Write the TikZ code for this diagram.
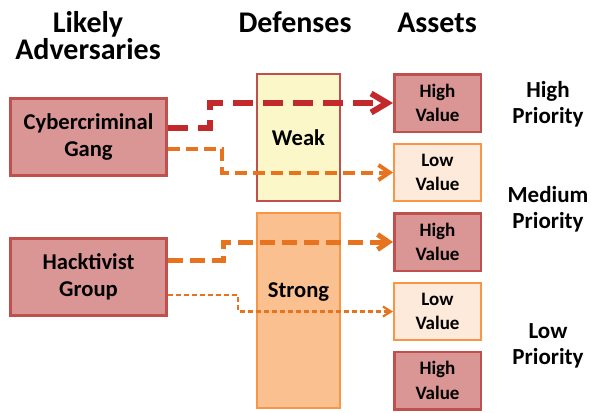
\documentclass[tikz,border=0pt]{standalone}
\usepackage{fontspec}
\setmainfont{Carlito}
\usetikzlibrary{arrows.meta}
\definecolor{redfill}{HTML}{D99694}
\definecolor{redline}{HTML}{C0504D}
\definecolor{orfill}{HTML}{FAC090}
\definecolor{orline}{HTML}{F79646}
\definecolor{lofill}{HTML}{FDEADA}
\definecolor{yelfill}{HTML}{FBF7C9}
\definecolor{arrred}{HTML}{C3282C}
\definecolor{arror}{HTML}{E8731F}
\begin{document}
\begin{tikzpicture}[x=1pt,y=-1pt,
  head/.style={font=\bfseries\fontsize{30}{26.5}\selectfont, inner sep=0pt, align=center},
  prio/.style={font=\bfseries\fontsize{23}{26}\selectfont, inner sep=0pt, align=center},
  advbox/.style={draw=redline, fill=redfill, line width=3pt, minimum width=156pt, minimum height=77pt, inner sep=0pt, align=center, font=\bfseries\fontsize{22.6}{26.5}\selectfont},
  weakbox/.style={draw=redline, fill=yelfill, line width=2pt, minimum width=83pt, minimum height=127pt, inner sep=0pt, align=center, font=\bfseries\fontsize{22.6}{26.5}\selectfont},
  strongbox/.style={draw=orline, fill=orfill, line width=2pt, minimum width=83pt, minimum height=195pt, inner sep=0pt},
  deftext/.style={inner sep=0pt, font=\bfseries\fontsize{22.6}{26.5}\selectfont},
  hvbox/.style={draw=redline, fill=redfill, line width=2.5pt, minimum width=86.5pt, minimum height=57.5pt, inner sep=0pt, align=center, font=\bfseries\fontsize{19}{24.5}\selectfont},
  lvbox/.style={draw=orline, fill=lofill, line width=2pt, minimum width=87pt, minimum height=57pt, inner sep=0pt, align=center, font=\bfseries\fontsize{19}{24.5}\selectfont},
  aone/.style={draw=arrred, line width=6pt, dash pattern=on 20pt off 10pt, -{Straight Barb[length=16pt,width=19pt]}},
  atwo/.style={draw=arror, line width=4pt, dash pattern=on 12pt off 6pt, -{Straight Barb[length=11pt,width=15pt]}},
  athree/.style={draw=arror, line width=5pt, dash pattern=on 15pt off 7pt, -{Straight Barb[length=11pt,width=15pt]}},
  afour/.style={draw=arror, line width=2.2pt, dash pattern=on 5pt off 3pt, -{Straight Barb[length=8pt,width=10pt]}}
]
\useasboundingbox (0,0) rectangle (591,412);

% headers
\node[head] (hadv) at (88,35.5) {Likely\\Adversaries};
\node[head, anchor=base] (hdef) at (295,33) {Defenses};
\node[head, anchor=base] (hass) at (437,33) {Assets};

% adversaries
\node[advbox] (cyber) at (88.5,137) {Cybercriminal\\Gang};
\node[advbox] (hack) at (88.5,277) {Hacktivist\\Group};

% defenses
\node[weakbox] (weak) at (298.5,137.5) {Weak};
\node[strongbox] (strong) at (298.5,310.5) {};
\node[deftext, anchor=base] (strongtxt) at (298.5,297) {Strong};

% assets
\node[hvbox] (hv1) at (437.5,103) {High\\Value};
\node[lvbox] (lv2) at (437.5,172.5) {Low\\Value};
\node[hvbox] (hv3) at (437.5,242) {High\\Value};
\node[lvbox] (lv4) at (437.5,311.5) {Low\\Value};
\node[hvbox] (hv5) at (437.5,380.5) {High\\Value};

% priorities
\node[prio] (phigh) at (548,104) {High\\Priority};
\node[prio] (pmed) at (548,209) {Medium\\Priority};
\node[prio] (plow) at (548,346) {Low\\Priority};

% connectors
\draw[aone] ([yshift=9pt]cyber.east) -- ++(42,0) |- (hv1.west);
\draw[atwo] ([yshift=-12pt]cyber.east) -- ++(54,0) |- (lv2.west);
\draw[athree] ([yshift=17pt]hack.east) -- ++(55,0) |- (hv3.west);
\draw[afour] ([yshift=-18pt]hack.east) -- ++(70,0) |- (lv4.west);
\end{tikzpicture}
\end{document}
